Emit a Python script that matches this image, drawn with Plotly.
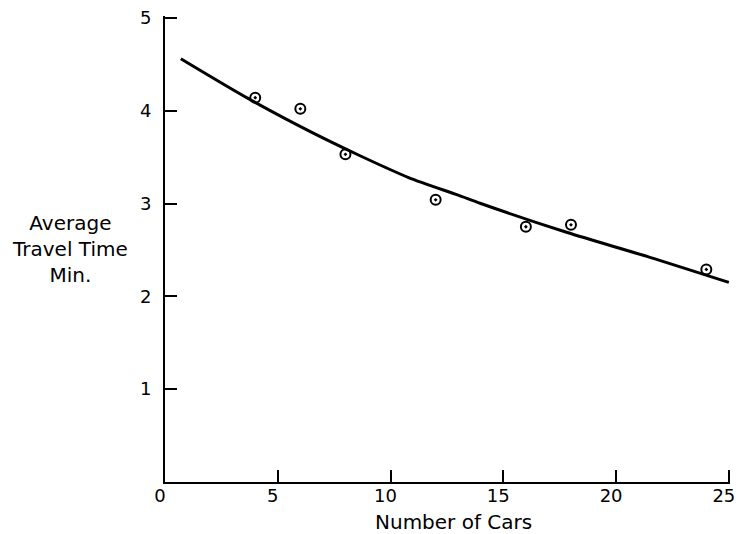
import plotly.graph_objects as go

# Observed data (circles)
cars = [4, 6, 8, 12, 16, 18, 24]
travel_time = [4.14, 4.02, 3.53, 3.04, 2.75, 2.77, 2.29]

# Fitted curve, points
curve_x = [0.7, 3.7, 6.4, 8.6, 10.8, 13.0, 14.0, 17.8, 21.5, 25.0]
curve_y = [4.56, 4.13, 3.78, 3.52, 3.28, 3.09, 3.00, 2.69, 2.42, 2.15]

x_ticks = [0, 5, 10, 15, 20, 25]
y_ticks = [1, 2, 3, 4, 5]

FONT = "DejaVu Sans"

fig = go.Figure()
fig.add_trace(go.Scatter(
    x=curve_x, y=curve_y, mode="lines",
    line=dict(color="black", width=3, shape="spline", smoothing=0.8),
    showlegend=False, hoverinfo="skip"))
fig.add_trace(go.Scatter(
    x=cars, y=travel_time, mode="markers",
    marker=dict(symbol="circle-open-dot", size=10, color="black",
                line=dict(color="black", width=2)),
    showlegend=False))

fig.update_layout(
    width=737, height=526,
    margin=dict(l=157, r=15, t=8, b=52, autoexpand=False),
    paper_bgcolor="white", plot_bgcolor="white",
    font=dict(family=FONT, size=18, color="black"),
    xaxis=dict(range=[0, 25.05], tickvals=x_ticks, ticktext=[str(v) for v in x_ticks],
               showgrid=False, zeroline=False, showline=True, linecolor="black",
               linewidth=2, ticks="inside", ticklen=12, tickwidth=2, tickcolor="black",
               tickfont=dict(family=FONT, size=18), ticklabelstandoff=-4,
               ticklabelshift=-5, ticklabeloverflow="allow", automargin=False),
    yaxis=dict(range=[0, 5.02], tickvals=y_ticks, ticktext=[str(v) for v in y_ticks],
               showgrid=False, zeroline=False, showline=True, linecolor="black",
               linewidth=2, ticks="inside", ticklen=12, tickwidth=2, tickcolor="black",
               tickfont=dict(family=FONT, size=18), ticklabelstandoff=8,
               ticklabeloverflow="allow", automargin=False),
    annotations=[
        dict(text="Average<br>Travel Time<br>Min.", xref="paper", yref="paper",
             x=-0.168, y=0.501, xanchor="center", yanchor="middle", showarrow=False,
             align="center", font=dict(family=FONT, size=20, color="black")),
        dict(text="Number of Cars", xref="paper", yref="paper",
             x=0.511, y=-0.086, xanchor="center", yanchor="middle", showarrow=False,
             font=dict(family=FONT, size=20, color="black")),
    ],
)

fig.write_html("out.html")
